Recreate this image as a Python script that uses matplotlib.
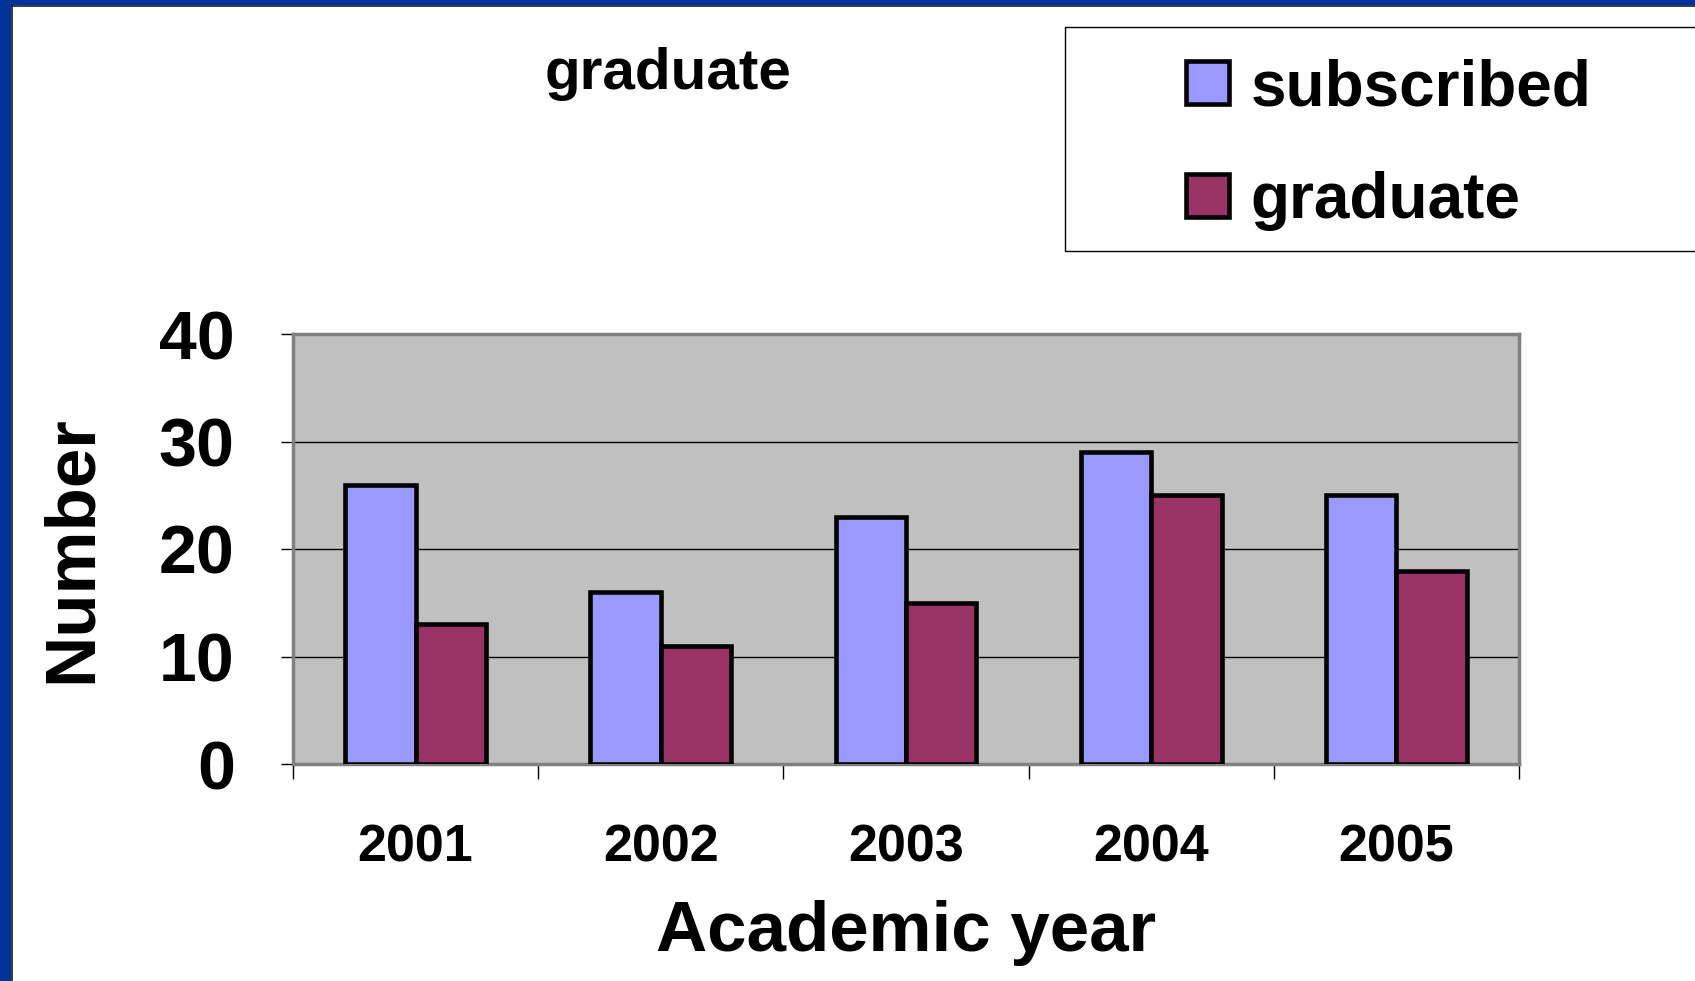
import numpy as np
import matplotlib
matplotlib.use("Agg")
import matplotlib.pyplot as plt
from matplotlib.patches import Rectangle

# data
years = ['2001', '2002', '2003', '2004', '2005']
subscribed = [26, 16, 23, 29, 25]
graduate = [13, 11, 15, 25, 18]
yticks = [0, 10, 20, 30, 40]

plt.rcParams['font.family'] = ['Liberation Sans', 'DejaVu Sans']
plt.rcParams['font.weight'] = 'bold'

fig = plt.figure(figsize=(16.95, 9.81), dpi=100)
fig.patch.set_facecolor('white')

# slide frame (dark blue strips on left and top)
fig.patches.append(Rectangle((0, 0), 11 / 1695, 1, transform=fig.transFigure,
                             facecolor='#003399', edgecolor='none', zorder=0))
fig.patches.append(Rectangle((0, 1 - 5 / 981), 1, 5 / 981, transform=fig.transFigure,
                             facecolor='#003399', edgecolor='none', zorder=0))
fig.lines.append(plt.Line2D([11.5 / 1695, 11.5 / 1695], [0, 1 - 5 / 981], transform=fig.transFigure,
                            color='#101830', lw=1.2))
fig.lines.append(plt.Line2D([11.5 / 1695, 1], [1 - 5.5 / 981, 1 - 5.5 / 981], transform=fig.transFigure,
                            color='#101830', lw=1.2))

ax = fig.add_axes([293 / 1695, 1 - 764 / 981, 1226 / 1695, 430 / 981])
ax.set_facecolor('#C0C0C0')

x = np.arange(len(years))
w = 0.287
b1 = ax.bar(x - w / 2, subscribed, w, color='#9999FF', edgecolor='black', linewidth=3.3, zorder=3)
b2 = ax.bar(x + w / 2, graduate, w, color='#993366', edgecolor='black', linewidth=3.3, zorder=3)

ax.set_xlim(-0.5, len(years) - 0.5)
ax.set_ylim(0, 40)
ax.set_yticks(yticks)
ax.set_yticklabels([str(v) for v in yticks], fontsize=49, fontweight='bold')
ax.yaxis.grid(True, color='black', linewidth=1)
ax.set_axisbelow(True)
ax.tick_params(axis='y', length=9, width=1, color='black', pad=33)

ax.set_xticks(np.arange(len(years) + 1) - 0.5)
ax.set_xticklabels([])
ax.set_xticks(x, minor=True)
ax.set_xticklabels(years, minor=True, fontsize=37.5, fontweight='bold')
ax.tick_params(axis='x', which='major', length=11, width=1, color='black', direction='out')
ax.tick_params(axis='x', which='minor', length=0, pad=43)

for s in ax.spines.values():
    s.set_color('#808080')
    s.set_linewidth(2.5)

fig.text(73 / 1695, 1 - 549 / 981, 'Number', rotation=90, ha='center', va='center',
         fontsize=51, fontweight='bold')
fig.text(906 / 1695, 1 - 951 / 981, 'Academic year', ha='center', va='baseline',
         fontsize=51, fontweight='bold')
fig.text(668 / 1695, 1 - 89 / 981, 'graduate', ha='center', va='baseline',
         fontsize=42, fontweight='bold')

# legend frame runs past the right edge
fig.patches.append(Rectangle((1065 / 1695, 1 - 251 / 981), 0.5, 224 / 981, transform=fig.transFigure,
                             facecolor='white', edgecolor='black', linewidth=1, zorder=1))
leg = fig.legend([b1, b2], ['subscribed', 'graduate'], loc='upper left',
                 bbox_to_anchor=(1186 / 1695, 1 - 58 / 981), frameon=False,
                 prop={'weight': 'bold', 'size': 46},
                 handlelength=0.67, handleheight=0.64, handletextpad=0.34,
                 labelspacing=0.83, borderpad=0, borderaxespad=0)
leg.set_zorder(2)
for h in leg.legend_handles:
    h.set_linewidth(3.3)

fig.savefig('out.png', dpi=100)
